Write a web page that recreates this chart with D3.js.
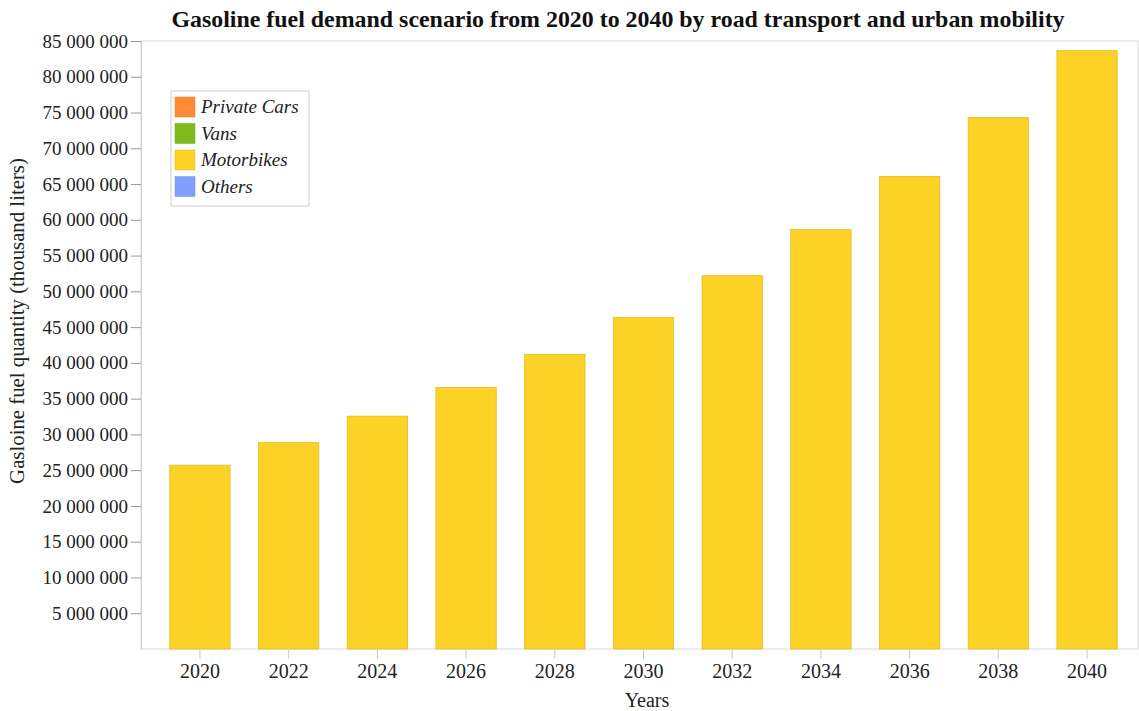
<!DOCTYPE html>
<html lang="en">
<head>
<meta charset="UTF-8" />
<title>Gasoline fuel demand scenario</title>
<style>
  body { margin: 0; background: #fff; }
  svg, svg text { font-family: "Liberation Serif", "Times New Roman", serif; }
  .tick text { fill: #222; }
</style>
<script src="https://d3js.org/d3.v7.min.js"></script>
</head>
<body>
<svg id="chart" width="1139" height="711"></svg>
<script>
// data
const years = ["2020","2022","2024","2026","2028","2030","2032","2034","2036","2038","2040"];
const privateCars = [0,0,0,0,0,0,0,0,0,0,0];
const vans = [0,0,0,0,0,0,0,0,0,0,0];
const motorbikes = [25700000,28850000,32550000,36550000,41200000,46350000,52200000,58650000,66050000,74300000,83650000];
const others = [0,0,0,0,0,0,0,0,0,0,0];
const seriesNames = ["Private Cars","Vans","Motorbikes","Others"];
const seriesColors = ["#ff8a33","#7fba1a","#fcd226","#809fff"];
const yTicks = d3.range(5000000, 85000001, 5000000);

const svg = d3.select("#chart");
const margin = {top: 41, right: 1, bottom: 62, left: 141};
const W = 1139, H = 711;

const rows = years.map((y, i) => ({
  year: y, "Private Cars": privateCars[i], "Vans": vans[i],
  "Motorbikes": motorbikes[i], "Others": others[i]
}));
const stacked = d3.stack().keys(seriesNames)(rows);

const y = d3.scaleLinear().domain([0, 85000000]).range([H - margin.bottom, margin.top]);
const x = d3.scaleBand().domain(years).range([155.6, 1131.4]).paddingInner(0.32).paddingOuter(0.16);

// frame
svg.append("rect")
  .attr("x", margin.left).attr("y", margin.top)
  .attr("width", W - margin.right - margin.left).attr("height", H - margin.bottom - margin.top)
  .attr("fill", "none").attr("stroke", "#d8d8d8");

// bars
svg.append("g").selectAll("g").data(stacked).join("g")
  .attr("fill", (d, i) => seriesColors[i])
  .attr("stroke", (d, i) => d3.color(seriesColors[i]).darker(0.3))
  .attr("stroke-width", 0.8)
  .selectAll("rect").data(d => d.filter(p => p[1] > p[0])).join("rect")
  .attr("x", d => x(d.data.year))
  .attr("width", x.bandwidth())
  .attr("y", d => y(d[1]))
  .attr("height", d => y(d[0]) - y(d[1]));

const fmt = v => d3.format(",")(v).replace(/,/g, " ");

// y axis
const gy = svg.append("g").attr("transform", `translate(${margin.left},0)`)
  .call(d3.axisLeft(y).tickValues(yTicks).tickFormat(fmt).tickSize(10).tickSizeOuter(0).tickPadding(3));
gy.attr("font-family", null).attr("font-size", 19);
gy.select(".domain").attr("stroke", "#d0d0d0");
gy.selectAll(".tick line").attr("stroke", "#999");

// x axis
const gx = svg.append("g").attr("transform", `translate(0,${H - margin.bottom})`)
  .call(d3.axisBottom(x).tickSize(10).tickPadding(5));
gx.attr("font-family", null).attr("font-size", 20);
gx.select(".domain").remove();
gx.selectAll(".tick line").attr("stroke", "#c8c8c8");

// title
svg.append("text").attr("x", 618).attr("y", 27).attr("text-anchor", "middle")
  .attr("font-size", 23.9).attr("font-weight", "bold").attr("fill", "#111")
  .text("Gasoline fuel demand scenario from 2020 to 2040 by road transport and urban mobility");

// axis titles
svg.append("text").attr("x", 647).attr("y", 707).attr("text-anchor", "middle")
  .attr("font-size", 20).attr("fill", "#222").text("Years");
svg.append("text").attr("transform", "translate(24,321) rotate(-90)").attr("text-anchor", "middle")
  .attr("font-size", 20.8).attr("fill", "#222").text("Gasloine fuel quantity (thousand liters)");

// legend
const lg = svg.append("g").attr("transform", "translate(171,91)");
lg.append("rect").attr("width", 138).attr("height", 115).attr("fill", "#fff").attr("stroke", "#ccc");
seriesNames.forEach((n, i) => {
  const row = lg.append("g").attr("transform", `translate(4,${6 + i * 26.5})`);
  row.append("rect").attr("width", 20).attr("height", 20)
    .attr("fill", seriesColors[i]).attr("stroke", d3.color(seriesColors[i]).darker(0.3)).attr("stroke-width", 0.5);
  row.append("text").attr("x", 26).attr("y", 16).attr("font-size", 19)
    .attr("font-style", "italic").attr("fill", "#222").text(n);
});
</script>
</body>
</html>
